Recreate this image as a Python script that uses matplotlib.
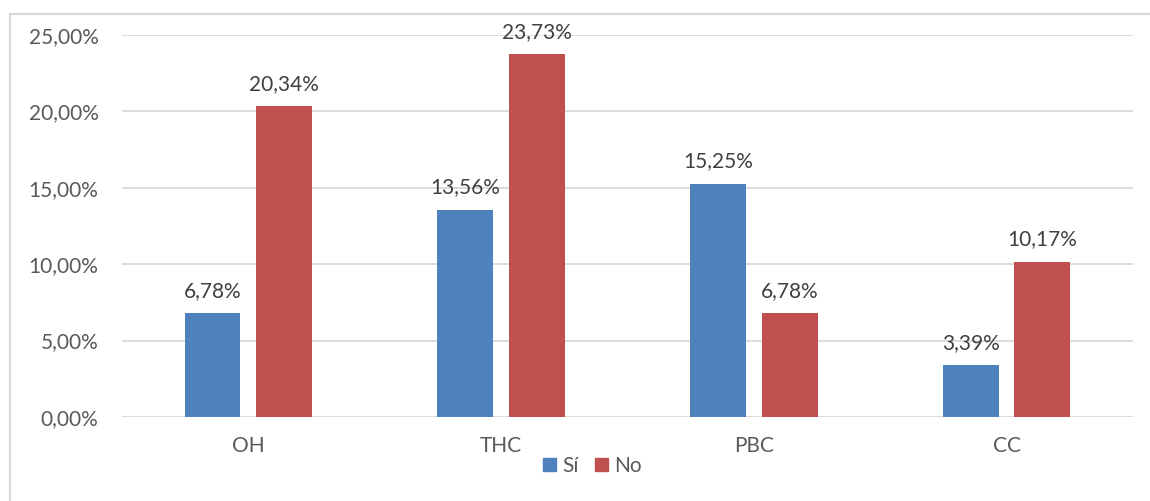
import matplotlib
matplotlib.use("Agg")
import matplotlib.pyplot as plt
from matplotlib.lines import Line2D
from matplotlib.patches import Patch
import numpy as np

categories = ["OH", "THC", "PBC", "CC"]
si_values = [6.78, 13.56, 15.25, 3.39]
no_values = [20.34, 23.73, 6.78, 10.17]
series_names = ["Sí", "No"]
y_ticks = [0, 5, 10, 15, 20, 25]

BLUE = "#4F81BD"
RED = "#C0504D"
GRID = "#D9D9D9"
TEXT = "#404040"
TICK = "#595959"

plt.rcParams["font.family"] = ["Lato", "DejaVu Sans"]
FS = 15

fig = plt.figure(figsize=(11.5, 5.01), dpi=100)
ax = fig.add_axes([0.1061, 0.1677, 0.879, 0.7624])

x = np.arange(len(categories))
width = 0.221
offset = 0.142

bars_si = ax.bar(x - offset, si_values, width, color=BLUE, zorder=3)
bars_no = ax.bar(x + offset, no_values, width, color=RED, zorder=3)

def fmt(v):
    return f"{v:.2f}".replace(".", ",") + "%"

for bars, vals in ((bars_si, si_values), (bars_no, no_values)):
    for b, v in zip(bars, vals):
        ax.annotate(fmt(v), (b.get_x() + b.get_width() / 2, v),
                    xytext=(0, 9), textcoords="offset points",
                    ha="center", va="bottom", fontsize=FS, color=TEXT)

ax.set_xlim(-0.5, len(categories) - 0.5)
ax.set_ylim(0, 25)
ax.set_yticks(y_ticks)
ax.set_yticklabels([f"{t:.2f}".replace(".", ",") + "%" for t in y_ticks])
ax.set_xticks(x)
ax.set_xticklabels(categories)
ax.tick_params(axis="both", length=0, labelsize=FS, labelcolor=TICK)
ax.tick_params(axis="y", pad=17)
ax.tick_params(axis="x", pad=14)
ax.grid(axis="y", color=GRID, linewidth=1.3, zorder=0)
for s in ax.spines.values():
    s.set_visible(False)

handles = [Patch(color=BLUE), Patch(color=RED)]
fig.legend(handles, series_names, loc="center", bbox_to_anchor=(0.515, 0.07),
           ncol=2, frameon=False, fontsize=FS, labelcolor=TICK,
           handlelength=0.6, handleheight=0.6, handletextpad=0.3,
           columnspacing=0.8)

# outer chart frame (left and top edges)
fig.add_artist(Line2D([10 / 1150, 10 / 1150], [0, 1 - 14 / 501],
                      transform=fig.transFigure, color=GRID, linewidth=1.5))
fig.add_artist(Line2D([10 / 1150, 1], [1 - 14 / 501, 1 - 14 / 501],
                      transform=fig.transFigure, color=GRID, linewidth=1.5))

fig.savefig("out.png", dpi=100, facecolor="white")
